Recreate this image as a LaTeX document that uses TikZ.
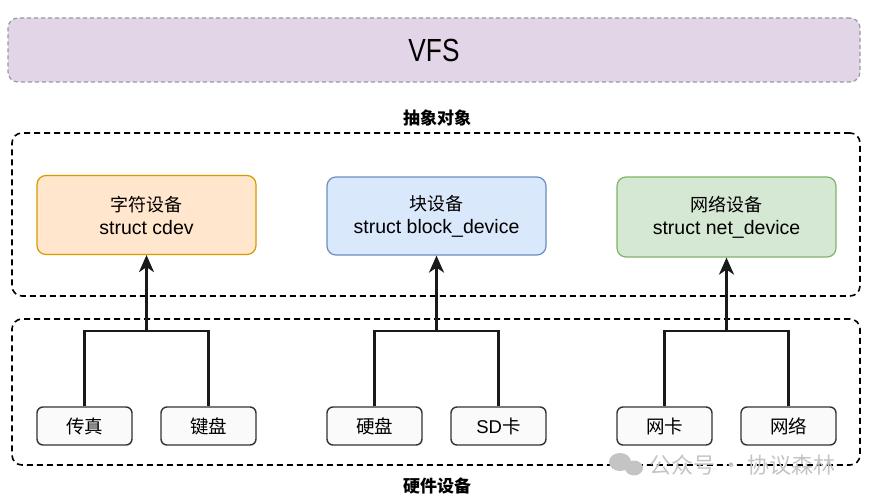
\documentclass[tikz,border=0pt]{standalone}
\usepackage{fontspec}
\setmainfont{Liberation Sans}
\newfontfamily\cjk{Noto Sans CJK SC}
\usetikzlibrary{arrows.meta}
\definecolor{vfsfill}{HTML}{E1D5E7}
\definecolor{vfsdraw}{HTML}{9A9A9A}
\definecolor{orfill}{HTML}{FFE6CC}
\definecolor{ordraw}{HTML}{D79B00}
\definecolor{blfill}{HTML}{DAE8FC}
\definecolor{bldraw}{HTML}{6C8EBF}
\definecolor{grfill}{HTML}{D5E8D4}
\definecolor{grdraw}{HTML}{82B366}
\definecolor{wmark}{HTML}{C4C4C4}
\begin{document}
\begin{tikzpicture}[x=1pt,y=-1pt,
  groupbox/.style={draw=black,dashed,dash pattern=on 6pt off 4pt,line width=1.6pt,rounded corners=10pt,minimum width=848pt,inner sep=0pt},
  devbox/.style={rounded corners=9pt,line width=1.2pt,minimum width=219pt,minimum height=79pt,align=center,font=\fontsize{19.5}{23}\selectfont},
  leafbox/.style={draw=black!80,fill=black!2,rounded corners=6pt,line width=1.4pt,minimum width=95pt,minimum height=38pt,font=\cjk\fontsize{18.5}{22}\selectfont},
  conn/.style={line width=2.4pt,draw=black!90},
  arr/.style={conn,-{Stealth[length=17pt,width=15pt,inset=5pt]}},
  grouplabel/.style={font=\cjk\bfseries\fontsize{17}{20}\selectfont}
]
\useasboundingbox (0,0) rectangle (874,500);
\fill[white] (0,0) rectangle (874,500);

% VFS
\node[draw=vfsdraw,fill=vfsfill,dashed,dash pattern=on 4pt off 3pt,line width=1.2pt,rounded corners=10pt,minimum width=852pt,minimum height=64pt,inner sep=0pt] (vfs) at (434,50) {\fontsize{32}{34}\selectfont\scalebox{0.82}[1]{VFS}};

% group boxes
\node[groupbox,minimum height=163pt] (absbox) at (436,214.5) {};
\node[groupbox,minimum height=146pt] (hwbox) at (436,392) {};
\node[grouplabel] (abslabel) at (437,118) {抽象对象};
\node[grouplabel] (hwlabel) at (437,486) {硬件设备};

% device boxes
\node[devbox,draw=ordraw,fill=orfill] (cdev) at (146.5,215) {{\cjk\fontsize{18}{23}\selectfont 字符设备}\\struct cdev};
\node[devbox,draw=bldraw,fill=blfill,minimum height=78pt] (bdev) at (436.5,216) {{\cjk\fontsize{18}{23}\selectfont 块设备}\\struct block\_device};
\node[devbox,draw=grdraw,fill=grfill,minimum height=80pt] (ndev) at (726.5,217) {{\cjk\fontsize{18}{23}\selectfont 网络设备}\\struct net\_device};

% leaf boxes
\node[leafbox] (l1) at (84.5,426) {传真};
\node[leafbox] (l2) at (208.5,426) {键盘};
\node[leafbox] (l3) at (374.5,426) {硬盘};
\node[leafbox] (l4) at (498.5,426) {{\rmfamily SD}卡};
\node[leafbox] (l5) at (664.5,426) {网卡};
\node[leafbox] (l6) at (788.5,426) {网络};

% junctions
\coordinate (j1) at (146.5,331);
\coordinate (j2) at (436.5,331);
\coordinate (j3) at (726.5,331);

\draw[conn] (l1.north) |- (j1) -| (l2.north);
\draw[conn] (l3.north) |- (j2) -| (l4.north);
\draw[conn] (l5.north) |- (j3) -| (l6.north);
\draw[arr] (j1) -- (cdev.south);
\draw[arr] (j2) -- (bdev.south);
\draw[arr] (j3) -- (ndev.south);

% watermark
\fill[wmark] (620,462) ellipse (11pt and 9pt);
\fill[wmark] (634,468) ellipse (9pt and 7.5pt);
\node[font=\cjk\fontsize{22}{24}\selectfont,text=wmark,anchor=west] (wm) at (646,465) {公众号 · 协议森林};
\end{tikzpicture}
\end{document}
